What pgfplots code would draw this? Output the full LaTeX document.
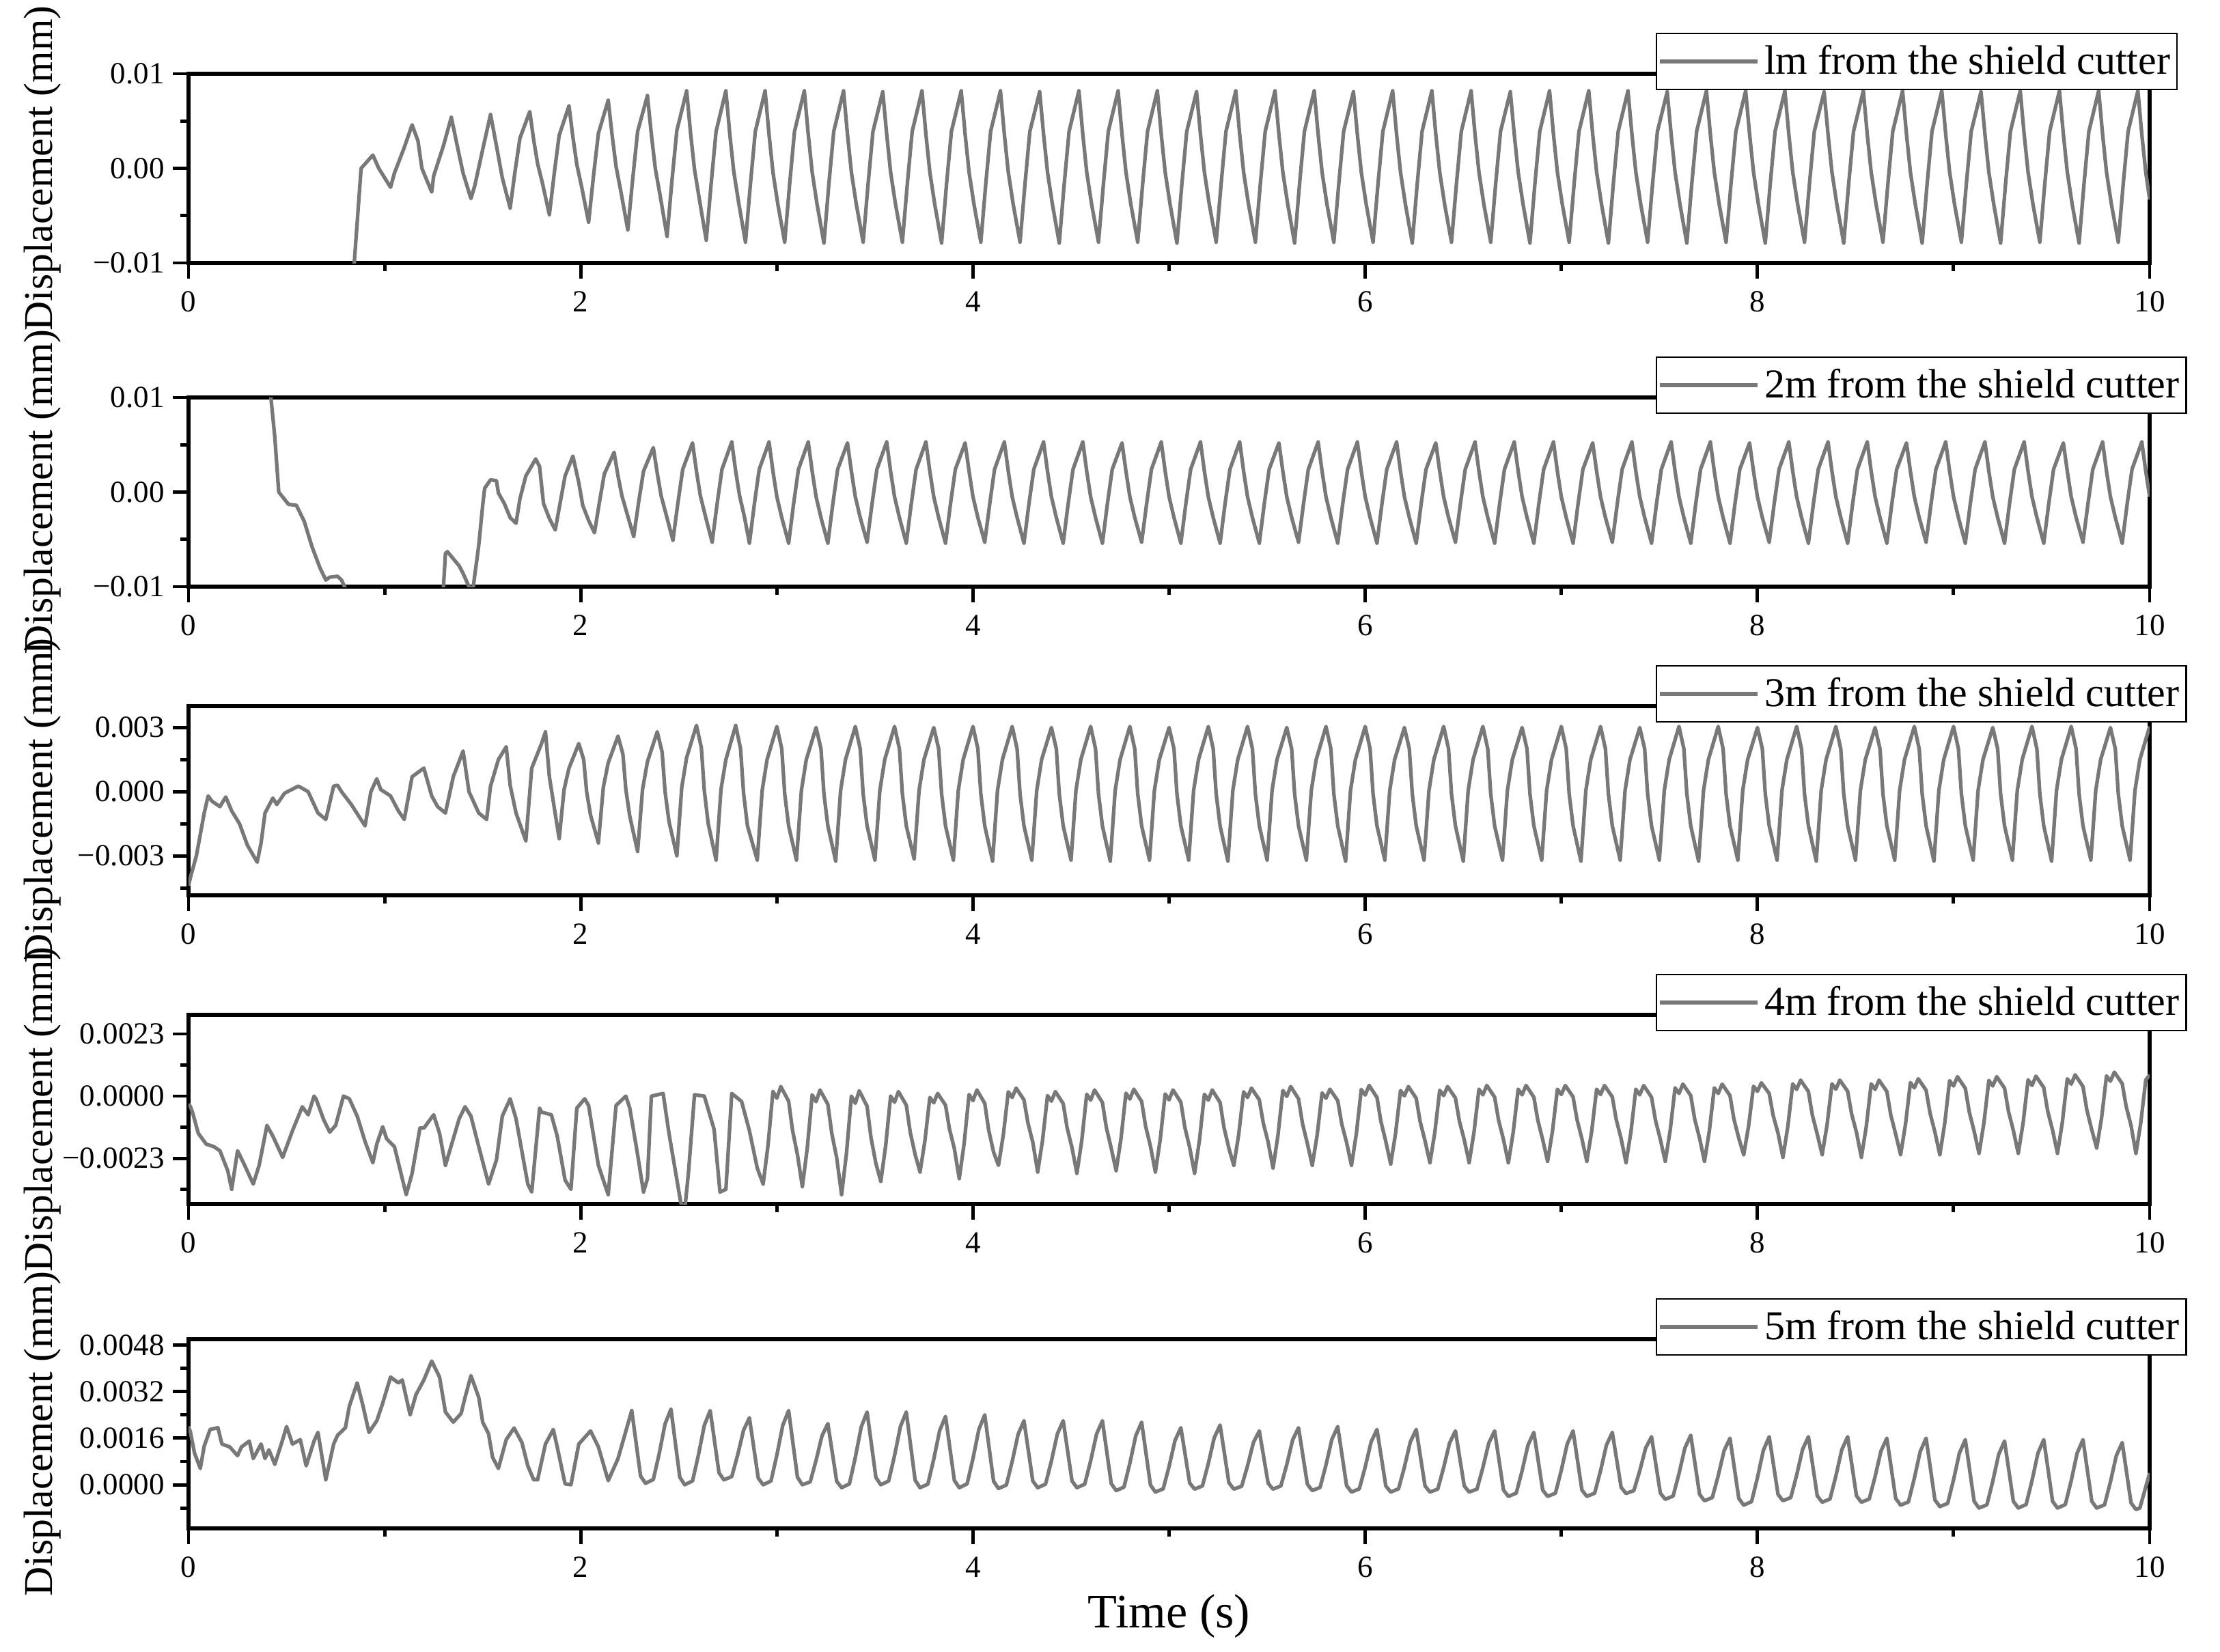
\documentclass[border=0pt]{standalone}
\usepackage{fontspec}
\setmainfont{Liberation Serif}
\usepackage{pgfplots}
\pgfplotsset{compat=1.18}
\definecolor{lgray}{RGB}{120,120,120}

\pgfplotsset{
  panel/.style={
    scale only axis, width=28.71cm, height=2.77cm,
    anchor=north west,
    xmin=0, xmax=10,
    xtick={0,2,4,6,8,10}, xticklabels={0,2,4,6,8,10},
    minor xtick={1,3,5,7,9},
    xtick pos=left, ytick pos=left,
    tick align=outside,
    major tick length=0.23cm, minor tick length=0.12cm,
    major tick style={line width=1.4pt, black},
    minor tick style={line width=1.4pt, black},
    axis line style={line width=1.6pt, black},
    ticklabel style={font=\fontsize{12.8}{15}\selectfont},
    xticklabel style={yshift=-0.06cm},
    ylabel={Displacement (mm)},
    every axis y label/.style={at={(axis description cs:0,0.5)}, xshift=-1.99cm,
      rotate=90, anchor=base, font=\fontsize{17}{20}\selectfont},
    legend style={draw=black, line width=0.7pt, fill=white,
      at={(axis description cs:0.748,1)}, anchor=north west, yshift=0.6cm,
      inner xsep=0.03cm, inner ysep=0.1cm,
      font=\fontsize{17.1}{20}\selectfont, cells={anchor=west}},
    legend image code/.code={\draw[#1, line width=1.5pt] (0cm,0cm) -- (1.43cm,0cm);},
  },
  sig/.style={lgray, line width=1.5pt, line join=round},
}

\begin{document}
\begin{tikzpicture}
\path[use as bounding box] (0,0) rectangle (32.5cm,-24.18cm);

% ---------- 1 m ----------
\begin{axis}[panel, at={(2.76cm,-1.08cm)},
  ymin=-10, ymax=10, ytick={-10,0,10}, minor ytick={-5,5},
  yticklabels={−0.01,0.00,0.01}]
\addplot[sig] coordinates {
(0.82,-16)(0.845,-10)(0.88,0.0)(0.94,1.4)(0.97,0.0)(1.03,-2.0)(1.05,-0.5)(1.10,2.2)(1.14,4.6)(1.17,2.9)(1.19,0.0)(1.24,-2.5)(1.25,-0.8)(1.30,2.4)(1.34,5.4)(1.37,2.4)(1.40,-0.5)(1.44,-3.2)(1.46,-1.8)(1.50,2.0)(1.54,5.7)(1.57,2.4)(1.60,-1.0)
(1.64,-4.2)(1.665,-0.3)(1.69,3.2)(1.74,6.0)(1.76,3.0)(1.78,0.5)(1.805,-1.6)
(1.84,-4.9)(1.865,-0.5)(1.89,3.5)(1.94,6.6)(1.96,3.3)(1.98,0.4)(2.005,-2.0)
(2.04,-5.7)(2.065,-0.8)(2.09,3.7)(2.14,7.2)(2.16,3.5)(2.18,0.2)(2.205,-2.5)
(2.24,-6.5)(2.265,-1.1)(2.29,3.9)(2.34,7.7)(2.36,3.6)(2.38,0.0)(2.405,-2.9)
(2.44,-7.2)(2.465,-1.3)(2.49,4.0)(2.54,8.2)(2.56,3.7)(2.58,-0.1)(2.605,-3.3)
(2.64,-7.6)(2.665,-1.6)(2.69,3.9)(2.74,8.2)(2.76,3.6)(2.78,-0.3)(2.805,-3.6)
(2.84,-7.8)(2.865,-1.7)(2.89,3.9)(2.94,8.2)(2.96,3.6)(2.98,-0.4)(3.005,-3.8)
(3.04,-7.8)(3.065,-1.7)(3.09,3.9)(3.14,8.2)(3.16,3.6)(3.18,-0.4)(3.205,-3.8)
(3.24,-7.9)(3.265,-1.7)(3.29,3.9)(3.34,8.2)(3.36,3.6)(3.38,-0.4)(3.405,-3.8)
(3.44,-7.8)(3.465,-1.7)(3.49,3.9)(3.54,8.1)(3.56,3.6)(3.58,-0.4)(3.605,-3.8)
(3.64,-7.8)(3.665,-1.7)(3.69,3.9)(3.74,8.2)(3.76,3.6)(3.78,-0.4)(3.805,-3.8)
(3.84,-7.9)(3.865,-1.7)(3.89,3.9)(3.94,8.2)(3.96,3.6)(3.98,-0.4)(4.005,-3.8)
(4.04,-7.8)(4.065,-1.7)(4.09,3.9)(4.14,8.2)(4.16,3.6)(4.18,-0.4)(4.205,-3.8)
(4.24,-7.8)(4.265,-1.7)(4.29,3.9)(4.34,8.1)(4.36,3.6)(4.38,-0.4)(4.405,-3.8)
(4.44,-7.9)(4.465,-1.7)(4.49,3.9)(4.54,8.2)(4.56,3.6)(4.58,-0.4)(4.605,-3.8)
(4.64,-7.8)(4.665,-1.7)(4.69,3.9)(4.74,8.2)(4.76,3.6)(4.78,-0.4)(4.805,-3.8)
(4.84,-7.8)(4.865,-1.7)(4.89,3.9)(4.94,8.2)(4.96,3.6)(4.98,-0.4)(5.005,-3.8)
(5.04,-7.9)(5.065,-1.7)(5.09,3.9)(5.14,8.1)(5.16,3.6)(5.18,-0.4)(5.205,-3.8)
(5.24,-7.8)(5.265,-1.7)(5.29,3.9)(5.34,8.2)(5.36,3.6)(5.38,-0.4)(5.405,-3.8)
(5.44,-7.8)(5.465,-1.7)(5.49,3.9)(5.54,8.2)(5.56,3.6)(5.58,-0.4)(5.605,-3.8)
(5.64,-7.9)(5.665,-1.7)(5.69,3.9)(5.74,8.2)(5.76,3.6)(5.78,-0.4)(5.805,-3.8)
(5.84,-7.8)(5.865,-1.7)(5.89,3.9)(5.94,8.1)(5.96,3.6)(5.98,-0.4)(6.005,-3.8)
(6.04,-7.8)(6.065,-1.7)(6.09,3.9)(6.14,8.2)(6.16,3.6)(6.18,-0.4)(6.205,-3.8)
(6.24,-7.9)(6.265,-1.7)(6.29,3.9)(6.34,8.2)(6.36,3.6)(6.38,-0.4)(6.405,-3.8)
(6.44,-7.8)(6.465,-1.7)(6.49,3.9)(6.54,8.2)(6.56,3.6)(6.58,-0.4)(6.605,-3.8)
(6.64,-7.8)(6.665,-1.7)(6.69,3.9)(6.74,8.1)(6.76,3.6)(6.78,-0.4)(6.805,-3.8)
(6.84,-7.9)(6.865,-1.7)(6.89,3.9)(6.94,8.2)(6.96,3.6)(6.98,-0.4)(7.005,-3.8)
(7.04,-7.8)(7.065,-1.7)(7.09,3.9)(7.14,8.2)(7.16,3.6)(7.18,-0.4)(7.205,-3.8)
(7.24,-7.9)(7.265,-1.7)(7.29,3.9)(7.34,8.2)(7.36,3.6)(7.38,-0.4)(7.405,-3.8)
(7.44,-7.8)(7.465,-1.7)(7.49,3.9)(7.54,8.1)(7.56,3.6)(7.58,-0.4)(7.605,-3.8)
(7.64,-7.9)(7.665,-1.7)(7.69,3.9)(7.74,8.2)(7.76,3.6)(7.78,-0.4)(7.805,-3.8)
(7.84,-7.8)(7.865,-1.7)(7.89,3.9)(7.94,8.2)(7.96,3.6)(7.98,-0.4)(8.005,-3.8)
(8.04,-7.9)(8.065,-1.7)(8.09,3.9)(8.14,8.2)(8.16,3.6)(8.18,-0.4)(8.205,-3.8)
(8.24,-7.8)(8.265,-1.7)(8.29,3.9)(8.34,8.1)(8.36,3.6)(8.38,-0.4)(8.405,-3.8)
(8.44,-7.9)(8.465,-1.7)(8.49,3.9)(8.54,8.2)(8.56,3.6)(8.58,-0.4)(8.605,-3.8)
(8.64,-7.8)(8.665,-1.7)(8.69,3.9)(8.74,8.2)(8.76,3.6)(8.78,-0.4)(8.805,-3.8)
(8.84,-7.9)(8.865,-1.7)(8.89,3.9)(8.94,8.2)(8.96,3.6)(8.98,-0.4)(9.005,-3.8)
(9.04,-7.8)(9.065,-1.7)(9.09,3.9)(9.14,8.1)(9.16,3.6)(9.18,-0.4)(9.205,-3.8)
(9.24,-7.9)(9.265,-1.7)(9.29,3.9)(9.34,8.2)(9.36,3.6)(9.38,-0.4)(9.405,-3.8)
(9.44,-7.8)(9.465,-1.7)(9.49,3.9)(9.54,8.2)(9.56,3.6)(9.58,-0.4)(9.605,-3.8)
(9.64,-7.9)(9.665,-1.7)(9.69,3.9)(9.74,8.2)(9.76,3.6)(9.78,-0.4)(9.805,-3.8)
(9.84,-7.8)(9.865,-1.7)(9.89,3.9)(9.94,8.2)(9.96,3.6)(9.98,-0.4)(10.0,-3.3)
};
\addlegendentry{lm from the shield cutter}
\end{axis}

% ---------- 2 m ----------
\begin{axis}[panel, at={(2.76cm,-5.82cm)},
  ymin=-10, ymax=10, ytick={-10,0,10}, minor ytick={-5,5},
  yticklabels={−0.01,0.00,0.01}]
\addplot[sig] coordinates {
(0.40,18)(0.42,10)(0.44,5.8)(0.46,0.0)(0.51,-1.3)(0.55,-1.4)(0.59,-3.1)(0.63,-5.8)(0.67,-8.0)(0.70,-9.3)(0.72,-9.0)(0.76,-8.9)(0.78,-9.3)(0.80,-10.2)(0.84,-13)
(1.28,-13)(1.30,-10)(1.31,-6.5)(1.32,-6.3)(1.38,-7.8)(1.40,-8.6)(1.43,-10)(1.45,-10.3)(1.46,-8.7)(1.47,-7.2)(1.48,-5.6)(1.49,-3.5)(1.50,-1.4)(1.51,0.4)(1.54,1.3)(1.57,1.2)(1.58,-0.1)(1.61,-1.2)(1.64,-2.7)(1.67,-3.3)(1.69,-0.7)(1.72,1.7)(1.77,3.5)(1.79,2.7)(1.81,-1.2)(1.84,-2.8)(1.87,-4.0)(1.89,-1.7)(1.92,1.7)(1.96,3.8)(1.99,1.0)(2.01,-1.4)(2.04,-3.0)
(2.07,-4.3)(2.095,-1.1)(2.12,1.9)(2.17,4.2)(2.19,1.7)(2.21,-0.4)(2.235,-2.2)
(2.27,-4.7)(2.295,-1.1)(2.32,2.2)(2.37,4.7)(2.39,2.0)(2.41,-0.4)(2.435,-2.35)
(2.47,-5.1)(2.495,-1.2)(2.52,2.4)(2.57,5.2)(2.59,2.2)(2.61,-0.4)(2.635,-2.5)
(2.67,-5.3)(2.695,-1.3)(2.72,2.4)(2.77,5.3)(2.79,2.2)(2.81,-0.4)(2.835,-2.65)
(2.86,-5.4)(2.885,-1.3)(2.91,2.4)(2.96,5.3)(2.98,2.2)(3.00,-0.5)(3.025,-2.7)
(3.06,-5.4)(3.085,-1.3)(3.11,2.4)(3.16,5.3)(3.18,2.2)(3.20,-0.5)(3.225,-2.7)
(3.26,-5.4)(3.285,-1.3)(3.31,2.4)(3.36,5.2)(3.38,2.2)(3.40,-0.5)(3.425,-2.7)
(3.46,-5.3)(3.485,-1.3)(3.51,2.4)(3.56,5.3)(3.58,2.2)(3.60,-0.5)(3.625,-2.7)
(3.66,-5.4)(3.685,-1.3)(3.71,2.4)(3.76,5.3)(3.78,2.2)(3.80,-0.5)(3.825,-2.7)
(3.86,-5.4)(3.885,-1.3)(3.91,2.4)(3.96,5.2)(3.98,2.2)(4.00,-0.5)(4.025,-2.7)
(4.06,-5.3)(4.085,-1.3)(4.11,2.4)(4.16,5.3)(4.18,2.2)(4.20,-0.5)(4.225,-2.7)
(4.26,-5.4)(4.285,-1.3)(4.31,2.4)(4.36,5.3)(4.38,2.2)(4.40,-0.5)(4.425,-2.7)
(4.46,-5.4)(4.485,-1.3)(4.51,2.4)(4.56,5.3)(4.58,2.2)(4.60,-0.5)(4.625,-2.7)
(4.66,-5.4)(4.685,-1.3)(4.71,2.4)(4.76,5.2)(4.78,2.2)(4.80,-0.5)(4.825,-2.7)
(4.86,-5.3)(4.885,-1.3)(4.91,2.4)(4.96,5.3)(4.98,2.2)(5.00,-0.5)(5.025,-2.7)
(5.06,-5.4)(5.085,-1.3)(5.11,2.4)(5.16,5.3)(5.18,2.2)(5.20,-0.5)(5.225,-2.7)
(5.26,-5.4)(5.285,-1.3)(5.31,2.4)(5.36,5.3)(5.38,2.2)(5.40,-0.5)(5.425,-2.7)
(5.46,-5.4)(5.485,-1.3)(5.51,2.4)(5.56,5.2)(5.58,2.2)(5.60,-0.5)(5.625,-2.7)
(5.66,-5.3)(5.685,-1.3)(5.71,2.4)(5.76,5.3)(5.78,2.2)(5.80,-0.5)(5.825,-2.7)
(5.86,-5.4)(5.885,-1.3)(5.91,2.4)(5.96,5.3)(5.98,2.2)(6.00,-0.5)(6.025,-2.7)
(6.06,-5.4)(6.085,-1.3)(6.11,2.4)(6.16,5.3)(6.18,2.2)(6.20,-0.5)(6.225,-2.7)
(6.26,-5.4)(6.285,-1.3)(6.31,2.4)(6.36,5.2)(6.38,2.2)(6.40,-0.5)(6.425,-2.7)
(6.46,-5.3)(6.485,-1.3)(6.51,2.4)(6.56,5.3)(6.58,2.2)(6.60,-0.5)(6.625,-2.7)
(6.66,-5.4)(6.685,-1.3)(6.71,2.4)(6.76,5.3)(6.78,2.2)(6.80,-0.5)(6.825,-2.7)
(6.86,-5.4)(6.885,-1.3)(6.91,2.4)(6.96,5.3)(6.98,2.2)(7.00,-0.5)(7.025,-2.7)
(7.06,-5.4)(7.085,-1.3)(7.11,2.4)(7.16,5.2)(7.18,2.2)(7.20,-0.5)(7.225,-2.7)
(7.26,-5.3)(7.285,-1.3)(7.31,2.4)(7.36,5.3)(7.38,2.2)(7.40,-0.5)(7.425,-2.7)
(7.46,-5.4)(7.485,-1.3)(7.51,2.4)(7.56,5.3)(7.58,2.2)(7.60,-0.5)(7.625,-2.7)
(7.66,-5.4)(7.685,-1.3)(7.71,2.4)(7.76,5.3)(7.78,2.2)(7.80,-0.5)(7.825,-2.7)
(7.86,-5.4)(7.885,-1.3)(7.91,2.4)(7.96,5.2)(7.98,2.2)(8.00,-0.5)(8.025,-2.7)
(8.06,-5.3)(8.085,-1.3)(8.11,2.4)(8.16,5.3)(8.18,2.2)(8.20,-0.5)(8.225,-2.7)
(8.26,-5.4)(8.285,-1.3)(8.31,2.4)(8.36,5.3)(8.38,2.2)(8.40,-0.5)(8.425,-2.7)
(8.46,-5.4)(8.485,-1.3)(8.51,2.4)(8.56,5.3)(8.58,2.2)(8.60,-0.5)(8.625,-2.7)
(8.66,-5.4)(8.685,-1.3)(8.71,2.4)(8.76,5.2)(8.78,2.2)(8.80,-0.5)(8.825,-2.7)
(8.86,-5.3)(8.885,-1.3)(8.91,2.4)(8.96,5.3)(8.98,2.2)(9.00,-0.5)(9.025,-2.7)
(9.06,-5.4)(9.085,-1.3)(9.11,2.4)(9.16,5.3)(9.18,2.2)(9.20,-0.5)(9.225,-2.7)
(9.26,-5.4)(9.285,-1.3)(9.31,2.4)(9.36,5.3)(9.38,2.2)(9.40,-0.5)(9.425,-2.7)
(9.46,-5.4)(9.485,-1.3)(9.51,2.4)(9.56,5.2)(9.58,2.2)(9.60,-0.5)(9.625,-2.7)
(9.66,-5.3)(9.685,-1.3)(9.71,2.4)(9.76,5.3)(9.78,2.2)(9.80,-0.5)(9.825,-2.7)
(9.86,-5.4)(9.885,-1.3)(9.91,2.4)(9.96,5.3)(9.98,2.2)(10.0,-0.5)
};
\addlegendentry{2m from the shield cutter}
\end{axis}

% ---------- 3 m ----------
\begin{axis}[panel, at={(2.76cm,-10.34cm)},
  ymin=-4.85, ymax=4.0, ytick={-3,0,3}, minor ytick={-4.5,-1.5,1.5},
  yticklabels={−0.003,0.000,0.003}]
\addplot[sig] coordinates {
(0.0,-4.4)(0.01,-4.0)(0.04,-3.0)(0.08,-1.0)(0.10,-0.2)(0.12,-0.45)(0.16,-0.7)(0.19,-0.25)(0.22,-0.9)(0.26,-1.5)(0.30,-2.5)(0.35,-3.3)(0.37,-2.4)(0.39,-1.0)(0.43,-0.3)(0.45,-0.6)(0.49,-0.07)(0.56,0.26)(0.61,0.0)(0.66,-1.0)(0.70,-1.3)(0.74,0.26)(0.76,0.3)(0.78,0.0)(0.83,-0.6)(0.90,-1.6)(0.93,0.0)(0.96,0.6)(0.98,0.1)(1.03,-0.2)(1.07,-0.9)(1.10,-1.3)(1.14,0.7)(1.20,1.1)(1.24,-0.2)(1.27,-0.7)(1.31,-1.0)(1.35,0.7)(1.40,1.9)(1.43,0.0)(1.48,-1.0)(1.52,-1.3)(1.54,0.26)(1.58,1.5)(1.62,2.1)(1.64,0.3)(1.67,-1.0)(1.72,-2.3)(1.75,1.1)(1.80,2.25)(1.82,2.8)(1.84,0.7)
(1.89,-2.2)(1.915,0.1)(1.94,1.1)(1.99,2.25)(2.015,1.5)(2.03,0.0)(2.05,-1.1)
(2.09,-2.4)(2.115,0.2)(2.14,1.35)(2.19,2.6)(2.215,1.75)(2.23,0.1)(2.25,-1.15)
(2.29,-2.8)(2.315,0.1)(2.34,1.4)(2.39,2.8)(2.415,1.85)(2.43,0.0)(2.45,-1.4)
(2.49,-3.0)(2.515,0.2)(2.54,1.6)(2.59,3.1)(2.615,2.05)(2.63,0.05)(2.65,-1.5)
(2.69,-3.2)(2.715,0.1)(2.74,1.5)(2.79,3.1)(2.815,2.0)(2.83,-0.05)(2.85,-1.6)
(2.90,-3.2)(2.925,0.05)(2.95,1.5)(3.00,3.05)(3.025,2.0)(3.04,-0.1)(3.06,-1.6)
(3.10,-3.2)(3.125,0.05)(3.15,1.5)(3.20,3.0)(3.225,2.0)(3.24,-0.1)(3.26,-1.6)
(3.30,-3.25)(3.325,0.05)(3.35,1.5)(3.40,3.05)(3.425,2.0)(3.44,-0.1)(3.46,-1.6)
(3.50,-3.2)(3.525,0.05)(3.55,1.5)(3.60,3.05)(3.625,2.0)(3.64,-0.1)(3.66,-1.6)
(3.70,-3.15)(3.725,0.05)(3.75,1.5)(3.80,3.0)(3.825,2.0)(3.84,-0.1)(3.86,-1.6)
(3.90,-3.2)(3.925,0.05)(3.95,1.5)(4.00,3.05)(4.025,2.0)(4.04,-0.1)(4.06,-1.6)
(4.10,-3.25)(4.125,0.05)(4.15,1.5)(4.20,3.05)(4.225,2.0)(4.24,-0.1)(4.26,-1.6)
(4.30,-3.2)(4.325,0.05)(4.35,1.5)(4.40,3.0)(4.425,2.0)(4.44,-0.1)(4.46,-1.6)
(4.50,-3.2)(4.525,0.05)(4.55,1.5)(4.60,3.05)(4.625,2.0)(4.64,-0.1)(4.66,-1.6)
(4.70,-3.25)(4.725,0.05)(4.75,1.5)(4.80,3.05)(4.825,2.0)(4.84,-0.1)(4.86,-1.6)
(4.90,-3.2)(4.925,0.05)(4.95,1.5)(5.00,3.0)(5.025,2.0)(5.04,-0.1)(5.06,-1.6)
(5.10,-3.2)(5.125,0.05)(5.15,1.5)(5.20,3.05)(5.225,2.0)(5.24,-0.1)(5.26,-1.6)
(5.30,-3.25)(5.325,0.05)(5.35,1.5)(5.40,3.05)(5.425,2.0)(5.44,-0.1)(5.46,-1.6)
(5.50,-3.2)(5.525,0.05)(5.55,1.5)(5.60,3.0)(5.625,2.0)(5.64,-0.1)(5.66,-1.6)
(5.70,-3.2)(5.725,0.05)(5.75,1.5)(5.80,3.05)(5.825,2.0)(5.84,-0.1)(5.86,-1.6)
(5.90,-3.25)(5.925,0.05)(5.95,1.5)(6.00,3.05)(6.025,2.0)(6.04,-0.1)(6.06,-1.6)
(6.10,-3.2)(6.125,0.05)(6.15,1.5)(6.20,3.0)(6.225,2.0)(6.24,-0.1)(6.26,-1.6)
(6.30,-3.2)(6.325,0.05)(6.35,1.5)(6.40,3.05)(6.425,2.0)(6.44,-0.1)(6.46,-1.6)
(6.50,-3.25)(6.525,0.05)(6.55,1.5)(6.60,3.05)(6.625,2.0)(6.64,-0.1)(6.66,-1.6)
(6.70,-3.2)(6.725,0.05)(6.75,1.5)(6.80,3.0)(6.825,2.0)(6.84,-0.1)(6.86,-1.6)
(6.90,-3.2)(6.925,0.05)(6.95,1.5)(7.00,3.05)(7.025,2.0)(7.04,-0.1)(7.06,-1.6)
(7.10,-3.25)(7.125,0.05)(7.15,1.5)(7.20,3.05)(7.225,2.0)(7.24,-0.1)(7.26,-1.6)
(7.30,-3.2)(7.325,0.05)(7.35,1.5)(7.40,3.0)(7.425,2.0)(7.44,-0.1)(7.46,-1.6)
(7.50,-3.2)(7.525,0.05)(7.55,1.5)(7.60,3.05)(7.625,2.0)(7.64,-0.1)(7.66,-1.6)
(7.70,-3.25)(7.725,0.05)(7.75,1.5)(7.80,3.05)(7.825,2.0)(7.84,-0.1)(7.86,-1.6)
(7.90,-3.2)(7.925,0.05)(7.95,1.5)(8.00,3.0)(8.025,2.0)(8.04,-0.1)(8.06,-1.6)
(8.10,-3.2)(8.125,0.05)(8.15,1.5)(8.20,3.05)(8.225,2.0)(8.24,-0.1)(8.26,-1.6)
(8.30,-3.25)(8.325,0.05)(8.35,1.5)(8.40,3.05)(8.425,2.0)(8.44,-0.1)(8.46,-1.6)
(8.50,-3.2)(8.525,0.05)(8.55,1.5)(8.60,3.0)(8.625,2.0)(8.64,-0.1)(8.66,-1.6)
(8.70,-3.2)(8.725,0.05)(8.75,1.5)(8.80,3.05)(8.825,2.0)(8.84,-0.1)(8.86,-1.6)
(8.90,-3.25)(8.925,0.05)(8.95,1.5)(9.00,3.05)(9.025,2.0)(9.04,-0.1)(9.06,-1.6)
(9.10,-3.2)(9.125,0.05)(9.15,1.5)(9.20,3.0)(9.225,2.0)(9.24,-0.1)(9.26,-1.6)
(9.30,-3.2)(9.325,0.05)(9.35,1.5)(9.40,3.05)(9.425,2.0)(9.44,-0.1)(9.46,-1.6)
(9.50,-3.25)(9.525,0.05)(9.55,1.5)(9.60,3.05)(9.625,2.0)(9.64,-0.1)(9.66,-1.6)
(9.70,-3.2)(9.725,0.05)(9.75,1.5)(9.80,3.0)(9.825,2.0)(9.84,-0.1)(9.86,-1.6)
(9.90,-3.2)(9.925,0.05)(9.95,1.5)(10.0,3.05)
};
\addlegendentry{3m from the shield cutter}
\end{axis}

% ---------- 4 m ----------
\begin{axis}[panel, at={(2.76cm,-14.86cm)},
  ymin=-4.05, ymax=3.05, ytick={-2.3333,0,2.3333}, minor ytick={-3.5,-1.1667,1.1667},
  yticklabels={−0.0023,0.0000,0.0023}]
\addplot[sig] coordinates {
(0.0,-0.3)(0.01,-0.4)(0.02,-0.6)(0.05,-1.4)(0.09,-1.8)(0.13,-1.9)(0.16,-2.05)(0.20,-2.8)(0.22,-3.5)(0.25,-2.05)(0.28,-2.5)(0.33,-3.3)(0.36,-2.6)(0.40,-1.1)(0.43,-1.5)(0.48,-2.3)(0.50,-1.9)(0.53,-1.3)(0.58,-0.4)(0.61,-0.7)(0.64,0.0)(0.65,-0.1)(0.69,-0.9)(0.72,-1.35)(0.75,-1.1)(0.79,0.0)(0.82,-0.1)(0.86,-0.75)(0.90,-1.7)(0.94,-2.5)(0.96,-1.8)(0.99,-1.15)(1.01,-1.6)(1.05,-1.9)(1.09,-3.1)(1.11,-3.7)(1.14,-2.9)(1.18,-1.2)(1.20,-1.2)(1.25,-0.7)(1.28,-1.4)(1.31,-2.6)(1.33,-2.1)(1.38,-0.85)(1.41,-0.4)(1.44,-0.75)(1.48,-1.9)(1.53,-3.3)(1.57,-2.4)(1.60,-0.75)(1.64,-0.1)(1.67,-0.85)(1.73,-3.3)(1.75,-3.6)(1.79,-0.45)(1.80,-0.6)(1.85,-0.7)(1.88,-1.5)(1.92,-3.15)(1.95,-3.5)(1.98,-0.45)(2.02,-0.1)(2.04,-0.35)(2.09,-2.6)(2.14,-3.7)(2.18,-0.35)(2.23,0.0)(2.25,-0.45)(2.29,-2.2)(2.32,-3.6)(2.34,-3.1)(2.36,0.0)(2.42,0.1)(2.45,-1.4)(2.51,-4.0)(2.53,-4.3)(2.55,-2.8)(2.58,0.05)(2.63,0.0)(2.68,-1.25)(2.71,-3.6)(2.74,-3.5)(2.77,0.1)(2.82,-0.2)(2.86,-1.3)(2.90,-2.7)
(2.93,-3.3)(2.955,-1.84)(2.98,0.18)(3.00,-0.08)(3.02,0.36)(3.06,-0.19)(3.08,-1.29)(3.105,-2.2)
(3.13,-3.4)(3.155,-1.95)(3.18,0.05)(3.20,-0.21)(3.22,0.23)(3.26,-0.31)(3.28,-1.4)(3.305,-2.31)
(3.33,-3.7)(3.355,-2.14)(3.38,0.0)(3.40,-0.27)(3.42,0.2)(3.46,-0.38)(3.48,-1.56)(3.505,-2.53)
(3.53,-3.2)(3.555,-1.85)(3.58,0.0)(3.60,-0.23)(3.62,0.17)(3.66,-0.34)(3.68,-1.35)(3.705,-2.19)
(3.73,-2.85)(3.755,-1.67)(3.78,-0.05)(3.80,-0.25)(3.82,0.1)(3.86,-0.34)(3.88,-1.23)(3.905,-1.97)
(3.93,-3.1)(3.955,-1.77)(3.98,0.06)(4.00,-0.17)(4.02,0.23)(4.06,-0.27)(4.08,-1.27)(4.105,-2.1)
(4.13,-2.6)(4.155,-1.44)(4.18,0.16)(4.20,-0.05)(4.22,0.3)(4.26,-0.14)(4.28,-1.0)(4.305,-1.73)
(4.33,-2.85)(4.355,-1.64)(4.38,0.02)(4.40,-0.19)(4.42,0.17)(4.46,-0.28)(4.48,-1.19)(4.505,-1.94)
(4.53,-2.9)(4.555,-1.65)(4.58,0.07)(4.60,-0.15)(4.62,0.23)(4.66,-0.24)(4.68,-1.18)(4.705,-1.96)
(4.73,-2.8)(4.755,-1.58)(4.78,0.11)(4.80,-0.11)(4.82,0.26)(4.86,-0.2)(4.88,-1.12)(4.905,-1.88)
(4.93,-2.85)(4.955,-1.62)(4.98,0.08)(5.00,-0.14)(5.02,0.23)(5.06,-0.23)(5.08,-1.16)(5.105,-1.93)
(5.13,-2.9)(5.155,-1.65)(5.18,0.07)(5.20,-0.15)(5.22,0.23)(5.26,-0.24)(5.28,-1.18)(5.305,-1.96)
(5.33,-2.6)(5.355,-1.44)(5.38,0.16)(5.40,-0.05)(5.42,0.3)(5.46,-0.14)(5.48,-1.0)(5.505,-1.73)
(5.53,-2.7)(5.555,-1.48)(5.58,0.21)(5.60,-0.01)(5.62,0.36)(5.66,-0.1)(5.68,-1.02)(5.705,-1.78)
(5.73,-2.6)(5.755,-1.46)(5.78,0.12)(5.80,-0.08)(5.82,0.26)(5.86,-0.17)(5.88,-1.03)(5.905,-1.74)
(5.93,-2.6)(5.955,-1.4)(5.98,0.25)(6.00,0.04)(6.02,0.4)(6.06,-0.05)(6.08,-0.95)(6.105,-1.7)
(6.13,-2.55)(6.155,-1.39)(6.18,0.21)(6.20,0.01)(6.22,0.36)(6.26,-0.08)(6.28,-0.95)(6.305,-1.68)
(6.33,-2.5)(6.355,-1.36)(6.38,0.22)(6.40,0.02)(6.42,0.36)(6.46,-0.07)(6.48,-0.93)(6.505,-1.64)
(6.53,-2.5)(6.555,-1.34)(6.58,0.26)(6.60,0.05)(6.62,0.4)(6.66,-0.04)(6.68,-0.9)(6.705,-1.63)
(6.73,-2.5)(6.755,-1.34)(6.78,0.26)(6.80,0.05)(6.82,0.4)(6.86,-0.04)(6.88,-0.9)(6.905,-1.63)
(6.93,-2.45)(6.955,-1.31)(6.98,0.26)(7.00,0.06)(7.02,0.4)(7.06,-0.03)(7.08,-0.88)(7.105,-1.6)
(7.13,-2.45)(7.155,-1.31)(7.18,0.26)(7.20,0.06)(7.22,0.4)(7.26,-0.03)(7.28,-0.88)(7.305,-1.6)
(7.33,-2.5)(7.355,-1.34)(7.38,0.26)(7.40,0.05)(7.42,0.4)(7.46,-0.04)(7.48,-0.9)(7.505,-1.63)
(7.53,-2.45)(7.555,-1.29)(7.58,0.31)(7.60,0.1)(7.62,0.45)(7.66,0.02)(7.68,-0.86)(7.705,-1.58)
(7.73,-2.45)(7.755,-1.29)(7.78,0.31)(7.80,0.1)(7.82,0.45)(7.86,0.02)(7.88,-0.86)(7.905,-1.58)
(7.93,-2.2)(7.955,-1.12)(7.98,0.37)(8.00,0.18)(8.02,0.5)(8.06,0.1)(8.08,-0.72)(8.105,-1.39)
(8.13,-2.3)(8.155,-1.14)(8.18,0.46)(8.20,0.25)(8.22,0.6)(8.26,0.17)(8.28,-0.71)(8.305,-1.43)
(8.33,-2.2)(8.355,-1.08)(8.38,0.46)(8.40,0.26)(8.42,0.6)(8.46,0.18)(8.48,-0.66)(8.505,-1.36)
(8.53,-2.3)(8.555,-1.14)(8.58,0.46)(8.60,0.25)(8.62,0.6)(8.66,0.17)(8.68,-0.71)(8.705,-1.43)
(8.73,-2.2)(8.755,-1.06)(8.78,0.51)(8.80,0.31)(8.82,0.65)(8.86,0.22)(8.88,-0.63)(8.905,-1.35)
(8.93,-2.2)(8.955,-1.03)(8.98,0.58)(9.00,0.38)(9.02,0.73)(9.06,0.29)(9.08,-0.59)(9.105,-1.32)
(9.13,-2.15)(9.155,-1.0)(9.18,0.59)(9.20,0.38)(9.22,0.73)(9.26,0.3)(9.28,-0.57)(9.305,-1.29)
(9.33,-2.15)(9.355,-0.99)(9.38,0.61)(9.40,0.4)(9.42,0.75)(9.46,0.32)(9.48,-0.56)(9.505,-1.28)
(9.53,-2.15)(9.555,-0.97)(9.58,0.65)(9.60,0.45)(9.62,0.8)(9.66,0.36)(9.68,-0.53)(9.705,-1.27)
(9.73,-1.95)(9.755,-0.81)(9.78,0.76)(9.80,0.56)(9.82,0.9)(9.86,0.47)(9.88,-0.38)(9.905,-1.1)
(9.93,-2.15)(9.955,-0.99)(9.98,0.6)(10.0,0.8)
};
\addlegendentry{4m from the shield cutter}
\end{axis}

% ---------- 5 m ----------
\begin{axis}[panel, at={(2.76cm,-19.61cm)},
  ymin=-1.5, ymax=5.0, ytick={0,1.6,3.2,4.8}, minor ytick={-0.8,0.8,2.4,4.0},
  yticklabels={0.0000,0.0016,0.0032,0.0048},
  xlabel={Time (s)},
  every axis x label/.style={at={(axis description cs:0.5,0)}, yshift=-1.45cm,
    anchor=base, font=\fontsize{20}{24}\selectfont}]
\addplot[sig] coordinates {
(0.0,2.0)(0.01,1.8)(0.03,1.1)(0.06,0.56)(0.08,1.33)(0.11,1.9)(0.15,1.96)(0.17,1.4)(0.21,1.3)(0.25,1.0)(0.27,1.3)(0.31,1.5)(0.33,0.9)(0.37,1.4)(0.39,0.9)(0.41,1.2)(0.44,0.7)(0.48,1.55)(0.50,2.0)(0.53,1.4)(0.57,1.55)(0.60,0.65)(0.64,1.5)(0.66,1.8)(0.70,0.17)(0.74,1.4)(0.76,1.7)(0.80,1.96)(0.82,2.7)(0.86,3.5)(0.89,2.7)(0.92,1.8)(0.96,2.2)(0.99,2.8)(1.03,3.7)(1.07,3.5)(1.09,3.6)(1.13,2.4)(1.16,3.1)(1.20,3.6)(1.24,4.25)(1.28,3.7)(1.31,2.5)(1.35,2.15)(1.39,2.45)(1.41,3.0)(1.44,3.75)(1.48,3.0)(1.50,2.15)(1.53,1.75)(1.55,0.95)(1.58,0.56)(1.62,1.55)(1.66,1.95)(1.70,1.45)(1.73,0.65)(1.76,0.17)(1.78,0.17)(1.82,1.4)(1.86,1.9)(1.88,1.3)(1.92,0.03)(1.95,0.0)(1.99,1.4)(2.05,1.85)(2.09,1.3)(2.14,0.14)(2.19,0.9)
(2.26,2.55)(2.28,1.55)(2.305,0.3)(2.33,0.05)(2.37,0.18)(2.40,1.07)(2.43,2.09)
(2.46,2.6)(2.48,1.56)(2.505,0.26)(2.53,0.0)(2.57,0.13)(2.60,1.02)(2.63,2.04)
(2.66,2.55)(2.68,1.6)(2.705,0.41)(2.73,0.17)(2.77,0.28)(2.80,1.02)(2.83,1.87)
(2.86,2.3)(2.88,1.38)(2.905,0.23)(2.93,0.0)(2.97,0.13)(3.00,1.02)(3.03,2.04)
(3.06,2.55)(3.08,1.53)(3.105,0.26)(3.13,0.0)(3.17,0.1)(3.20,0.84)(3.23,1.68)
(3.26,2.1)(3.28,1.22)(3.305,0.12)(3.33,-0.1)(3.37,0.03)(3.40,0.94)(3.43,1.98)
(3.46,2.5)(3.48,1.5)(3.505,0.25)(3.53,0.0)(3.57,0.13)(3.60,1.0)(3.63,2.0)
(3.66,2.5)(3.68,1.46)(3.705,0.16)(3.73,-0.1)(3.77,0.02)(3.80,0.88)(3.83,1.86)
(3.86,2.35)(3.88,1.37)(3.905,0.15)(3.93,-0.1)(3.97,0.03)(4.00,0.9)(4.03,1.9)
(4.06,2.4)(4.08,1.39)(4.105,0.12)(4.13,-0.13)(4.17,-0.01)(4.20,0.8)(4.23,1.73)
(4.26,2.2)(4.28,1.28)(4.305,0.13)(4.33,-0.1)(4.37,0.02)(4.40,0.82)(4.43,1.74)
(4.46,2.2)(4.48,1.28)(4.505,0.13)(4.53,-0.1)(4.57,0.02)(4.60,0.82)(4.63,1.74)
(4.66,2.2)(4.68,1.24)(4.705,0.04)(4.73,-0.2)(4.77,-0.08)(4.80,0.74)(4.83,1.68)
(4.86,2.15)(4.88,1.19)(4.905,-0.01)(4.93,-0.25)(4.97,-0.14)(5.00,0.63)(5.03,1.52)
(5.06,1.96)(5.08,1.12)(5.105,0.06)(5.13,-0.15)(5.17,-0.04)(5.20,0.73)(5.23,1.61)
(5.26,2.05)(5.28,1.17)(5.305,0.07)(5.33,-0.15)(5.37,-0.05)(5.40,0.65)(5.43,1.45)
(5.46,1.85)(5.48,1.05)(5.505,0.05)(5.53,-0.15)(5.57,-0.04)(5.60,0.69)(5.63,1.54)
(5.66,1.96)(5.68,1.1)(5.705,0.02)(5.73,-0.2)(5.77,-0.09)(5.80,0.68)(5.83,1.56)
(5.86,2.0)(5.88,1.1)(5.905,-0.03)(5.93,-0.25)(5.97,-0.14)(6.00,0.61)(6.03,1.47)
(6.06,1.9)(6.08,1.04)(6.105,-0.04)(6.13,-0.25)(6.17,-0.14)(6.20,0.61)(6.23,1.47)
(6.26,1.9)(6.28,1.04)(6.305,-0.04)(6.33,-0.25)(6.37,-0.15)(6.40,0.59)(6.43,1.43)
(6.46,1.85)(6.48,1.01)(6.505,-0.04)(6.53,-0.25)(6.57,-0.15)(6.60,0.59)(6.63,1.43)
(6.66,1.85)(6.68,0.95)(6.705,-0.18)(6.73,-0.4)(6.77,-0.29)(6.80,0.48)(6.83,1.36)
(6.86,1.8)(6.88,0.92)(6.905,-0.18)(6.93,-0.4)(6.97,-0.29)(7.00,0.5)(7.03,1.4)
(7.06,1.85)(7.08,0.95)(7.105,-0.18)(7.13,-0.4)(7.17,-0.29)(7.20,0.48)(7.23,1.36)
(7.26,1.8)(7.28,0.96)(7.305,-0.09)(7.33,-0.3)(7.37,-0.2)(7.40,0.48)(7.43,1.26)
(7.46,1.65)(7.48,0.79)(7.505,-0.29)(7.53,-0.5)(7.57,-0.39)(7.60,0.38)(7.63,1.26)
(7.66,1.7)(7.68,0.8)(7.705,-0.33)(7.73,-0.55)(7.77,-0.44)(7.80,0.31)(7.83,1.17)
(7.86,1.6)(7.88,0.68)(7.905,-0.47)(7.93,-0.7)(7.97,-0.58)(8.00,0.24)(8.03,1.18)
(8.06,1.65)(8.08,0.77)(8.105,-0.33)(8.13,-0.55)(8.17,-0.44)(8.20,0.33)(8.23,1.21)
(8.26,1.65)(8.28,0.75)(8.305,-0.38)(8.33,-0.6)(8.37,-0.49)(8.40,0.3)(8.43,1.2)
(8.46,1.65)(8.48,0.75)(8.505,-0.38)(8.53,-0.6)(8.57,-0.49)(8.60,0.28)(8.63,1.16)
(8.66,1.6)(8.68,0.68)(8.705,-0.47)(8.73,-0.7)(8.77,-0.59)(8.80,0.22)(8.83,1.14)
(8.86,1.6)(8.88,0.66)(8.905,-0.52)(8.93,-0.75)(8.97,-0.64)(9.00,0.17)(9.03,1.09)
(9.06,1.55)(9.08,0.61)(9.105,-0.57)(9.13,-0.8)(9.17,-0.69)(9.20,0.12)(9.23,1.04)
(9.26,1.5)(9.28,0.58)(9.305,-0.57)(9.33,-0.8)(9.37,-0.68)(9.40,0.14)(9.43,1.08)
(9.46,1.55)(9.48,0.61)(9.505,-0.57)(9.53,-0.8)(9.57,-0.68)(9.60,0.14)(9.63,1.08)
(9.66,1.55)(9.68,0.61)(9.705,-0.57)(9.73,-0.8)(9.77,-0.69)(9.80,0.1)(9.83,1.0)
(9.86,1.45)(9.88,0.53)(9.905,-0.62)(9.93,-0.85)(9.95,-0.8)(10.0,0.4)
};
\addlegendentry{5m from the shield cutter}
\end{axis}
\end{tikzpicture}
\end{document}
